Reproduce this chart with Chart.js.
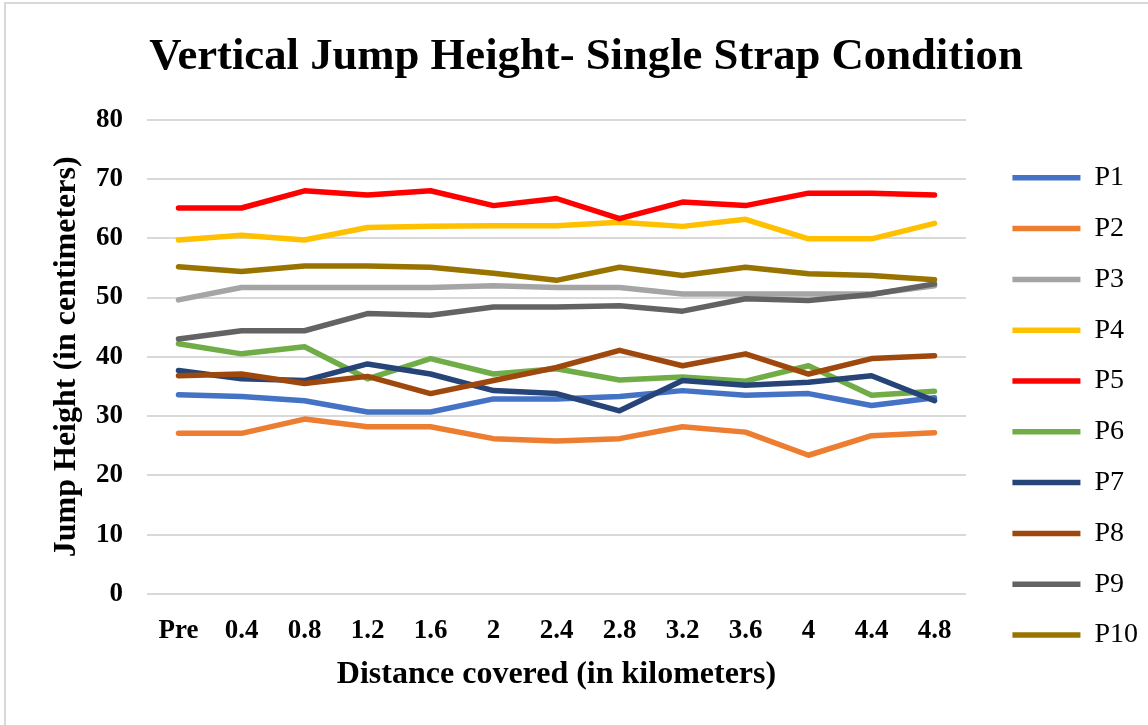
<!DOCTYPE html>
<html lang="en">
<head>
    <meta charset="UTF-8">
    <title>Vertical Jump Height- Single Strap Condition</title>
    <script src="https://cdn.jsdelivr.net/npm/chart.js"></script>
    <style>
        body { margin: 0; padding: 0; background: #ffffff; overflow: hidden; }
        .frame { position: absolute; left: 4px; top: 2px; width: 1160px; height: 740px; border: 2px solid #d9d9d9; }
        .wrap { position: absolute; left: 0; top: 0; width: 1148px; height: 725px; }
    </style>
</head>
<body>
    <div class="frame"></div>
    <div class="wrap"><canvas id="jumpChart"></canvas></div>

    <script>
        const distances = ["Pre", "0.4", "0.8", "1.2", "1.6", "2", "2.4", "2.8", "3.2", "3.6", "4", "4.4", "4.8"];

        const p1 = [33.6, 33.3, 32.6, 30.7, 30.7, 32.9, 32.9, 33.3, 34.3, 33.5, 33.8, 31.8, 33.1];
        const p2 = [27.1, 27.1, 29.5, 28.2, 28.2, 26.2, 25.8, 26.2, 28.2, 27.3, 23.4, 26.7, 27.2];
        const p3 = [49.6, 51.7, 51.7, 51.7, 51.7, 52.0, 51.7, 51.7, 50.6, 50.6, 50.6, 50.6, 52.0];
        const p4 = [59.7, 60.5, 59.7, 61.8, 62.0, 62.1, 62.1, 62.7, 62.0, 63.2, 59.9, 59.9, 62.5];
        const p5 = [65.1, 65.1, 68.0, 67.3, 68.0, 65.5, 66.7, 63.3, 66.1, 65.5, 67.6, 67.6, 67.3];
        const p6 = [42.2, 40.5, 41.7, 36.3, 39.7, 37.1, 38.0, 36.1, 36.6, 35.9, 38.5, 33.5, 34.2];
        const p7 = [37.7, 36.3, 36.0, 38.8, 37.1, 34.3, 33.8, 30.9, 36.0, 35.2, 35.7, 36.8, 32.6];
        const p8 = [36.8, 37.1, 35.5, 36.7, 33.8, 36.0, 38.2, 41.1, 38.5, 40.5, 37.1, 39.7, 40.2];
        const p9 = [43.0, 44.4, 44.4, 47.3, 47.0, 48.4, 48.4, 48.6, 47.7, 49.8, 49.5, 50.5, 52.3];
        const p10 = [55.2, 54.4, 55.3, 55.3, 55.1, 54.1, 52.9, 55.1, 53.7, 55.1, 54.0, 53.7, 53.0];

        const seriesNames = ["P1", "P2", "P3", "P4", "P5", "P6", "P7", "P8", "P9", "P10"];
        const seriesValues = [p1, p2, p3, p4, p5, p6, p7, p8, p9, p10];
        const seriesColors = ["#4472C4", "#ED7D31", "#A5A5A5", "#FFC000", "#FF0000",
                              "#70AD47", "#264478", "#9E480E", "#636363", "#997300"];

        const yTicks = [0, 10, 20, 30, 40, 50, 60, 70, 80];

        const serif = "'Liberation Serif', 'Times New Roman', serif";

        const datasets = seriesNames.map((name, i) => ({
            label: name,
            data: seriesValues[i],
            borderColor: seriesColors[i],
            backgroundColor: seriesColors[i],
            borderWidth: 5.5,
            borderCapStyle: "round",
            borderJoinStyle: "round",
            pointRadius: 0,
            pointHoverRadius: 0,
            pointStyle: "line",
            tension: 0,
            fill: false,
            order: seriesNames.length - i // Excel draws later series on top
        }));

        new Chart(document.getElementById("jumpChart"), {
            type: "line",
            data: { labels: distances, datasets: datasets },
            options: {
                responsive: true,
                maintainAspectRatio: false,
                animation: false,
                layout: { padding: { left: 24, right: 0, top: 0, bottom: 0 } },
                plugins: {
                    tooltip: { enabled: false },
                    title: {
                        display: true,
                        text: "Vertical Jump Height- Single Strap Condition",
                        color: "#000",
                        font: { family: serif, size: 44.7, weight: "bold" },
                        padding: { top: 31, bottom: 35 }
                    },
                    legend: {
                        position: "right",
                        align: "start",
                        // empty title only pushes the items down past the chart title
                        title: { display: true, text: "", font: { size: 10 }, padding: { top: 129, bottom: 0 } },
                        labels: {
                            usePointStyle: true,
                            pointStyleWidth: 68,
                            padding: 22.8,
                            color: "#000",
                            font: { family: serif, size: 28 },
                            sort: (a, b) => a.datasetIndex - b.datasetIndex
                        }
                    }
                },
                scales: {
                    x: {
                        offset: true,
                        grid: { display: false, drawTicks: false },
                        border: { display: false },
                        ticks: {
                            color: "#000",
                            padding: 21,
                            maxRotation: 0,
                            autoSkip: false,
                            font: { family: serif, size: 27, weight: "bold" }
                        },
                        title: {
                            display: true,
                            text: "Distance covered (in kilometers)",
                            color: "#000",
                            font: { family: serif, size: 32, weight: "bold" },
                            padding: { top: 0, bottom: 31 }
                        },
                        afterFit: scale => { scale.height = 131; }
                    },
                    y: {
                        min: 0,
                        max: 80,
                        afterBuildTicks: scale => { scale.ticks = yTicks.map(v => ({ value: v })); },
                        grid: { color: "#d9d9d9", lineWidth: 2, drawTicks: false },
                        border: { display: false },
                        ticks: {
                            color: "#000",
                            padding: 24,
                            font: { family: serif, size: 27, weight: "bold" }
                        },
                        title: {
                            display: true,
                            text: "Jump Height (in centimeters)",
                            color: "#000",
                            font: { family: serif, size: 32, weight: "bold" },
                            padding: { top: 24, bottom: 0 }
                        },
                        afterFit: scale => { scale.width = 123; }
                    },
                    // empty spacer between plot and legend
                    gap: {
                        type: "linear",
                        position: "right",
                        grid: { display: false, drawTicks: false },
                        border: { display: false },
                        ticks: { display: false },
                        afterFit: scale => { scale.width = 23.6; }
                    }
                }
            }
        });
    </script>
</body>
</html>
